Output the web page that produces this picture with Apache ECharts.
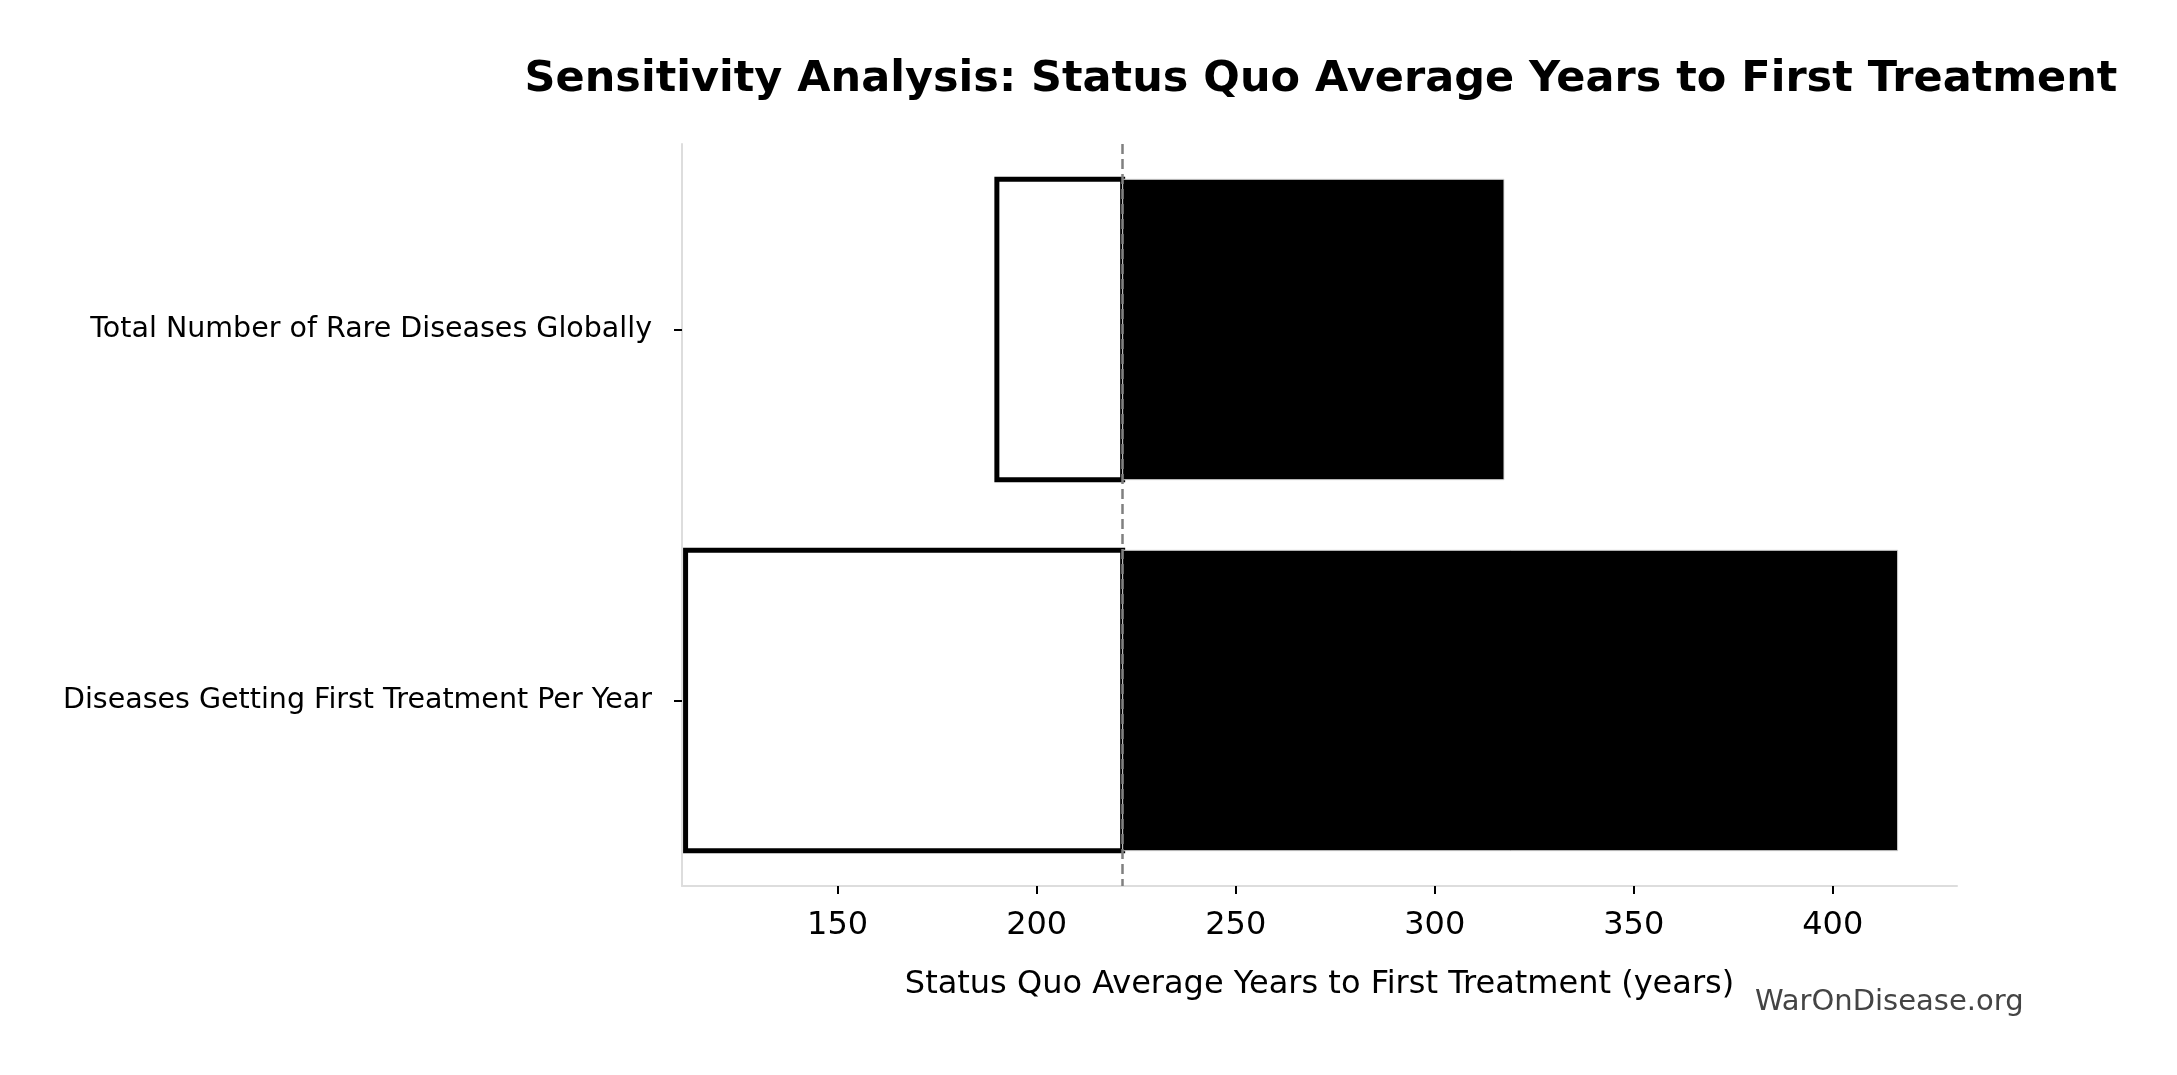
<!DOCTYPE html>
<html>
<head>
<meta charset="utf-8">
<title>Sensitivity Analysis</title>
<script src="https://cdn.jsdelivr.net/npm/echarts@6/dist/echarts.min.js"></script>
<style>
  html, body { margin: 0; padding: 0; background: #fff; }
  #chart { width: 2177px; height: 1075px; }
</style>
</head>
<body>
<div id="chart"></div>
<script>
// parameters, top to bottom
const categories = [
  "Total Number of Rare Diseases Globally",
  "Diseases Getting First Treatment Per Year",
];
const lowValues = [190.0, 111.8];   // left (white) end of each bar
const highValues = [317.4, 416.3];  // right (black) end of each bar
const baseline = 221.6;             // status quo value (dashed line)
const xTicks = [150, 200, 250, 300, 350, 400];
const xMin = 110.9;
const xMax = 431.2;

const FONT = "DejaVu Sans";

// [category index, from, to]
const lowData = categories.map((c, i) => [i, lowValues[i], baseline]);
const highData = categories.map((c, i) => [i, baseline, highValues[i]]);

function makeRender(fill, stroke, lineWidth) {
  return function (params, api) {
    const cat = api.value(0);
    const a = api.coord([api.value(1), cat]);
    const b = api.coord([api.value(2), cat]);
    const h = api.size([0, 1])[1] * 0.81;
    return {
      type: "rect",
      shape: { x: a[0], y: a[1] - h / 2, width: b[0] - a[0], height: h },
      style: { fill: fill, stroke: stroke, lineWidth: lineWidth },
    };
  };
}

const chart = echarts.init(document.getElementById("chart"), null, { renderer: "canvas" });

chart.setOption({
  animation: false,
  backgroundColor: "#ffffff",
  title: {
    text: "Sensitivity Analysis: Status Quo Average Years to First Treatment",
    left: 1316,
    top: 53,
    textAlign: "center",
    textStyle: { fontFamily: FONT, fontSize: 43, fontWeight: "bold", color: "#000" },
  },
  grid: { left: 682, right: 220, top: 144, bottom: 189, containLabel: false },
  xAxis: {
    type: "value",
    min: xMin,
    max: xMax,
    name: "Status Quo Average Years to First Treatment (years)",
    nameLocation: "middle",
    nameGap: 83,
    nameTextStyle: { fontFamily: FONT, fontSize: 32, color: "#000" },
    axisLine: { show: true, lineStyle: { color: "#dddddd", width: 2 } },
    axisTick: { show: true, length: 8, customValues: xTicks, lineStyle: { color: "#000", width: 2 } },
    axisLabel: { customValues: xTicks, margin: 24, fontFamily: FONT, fontSize: 32, color: "#000" },
    splitLine: { show: false },
  },
  yAxis: {
    type: "category",
    data: categories,
    inverse: true,
    axisLine: { show: true, lineStyle: { color: "#dddddd", width: 2 } },
    axisTick: { show: true, alignWithLabel: true, length: 8, lineStyle: { color: "#000", width: 2 } },
    axisLabel: { margin: 30, fontFamily: FONT, fontSize: 28.5, color: "#000" },
    splitLine: { show: false },
  },
  series: [
    {
      name: "status quo",
      type: "line",
      data: [],
      z: 1,
      markLine: {
        silent: true,
        symbol: ["none", "none"],
        label: { show: false },
        lineStyle: { color: "#808080", type: [10, 5], width: 2.5 },
        data: [{ xAxis: baseline }],
      },
    },
    {
      name: "low",
      type: "custom",
      z: 3,
      renderItem: makeRender("#ffffff", "#000000", 5),
      encode: { x: [1, 2], y: 0 },
      data: lowData,
    },
    {
      name: "high",
      type: "custom",
      z: 4,
      renderItem: makeRender("#000000", "#dddddd", 1),
      encode: { x: [1, 2], y: 0 },
      data: highData,
    },
  ],
  graphic: [
    {
      type: "text",
      left: 1755,
      top: 988,
      style: { text: "WarOnDisease.org", font: "29px 'DejaVu Sans'", fill: "#444444" },
    },
  ],
});
</script>
</body>
</html>
